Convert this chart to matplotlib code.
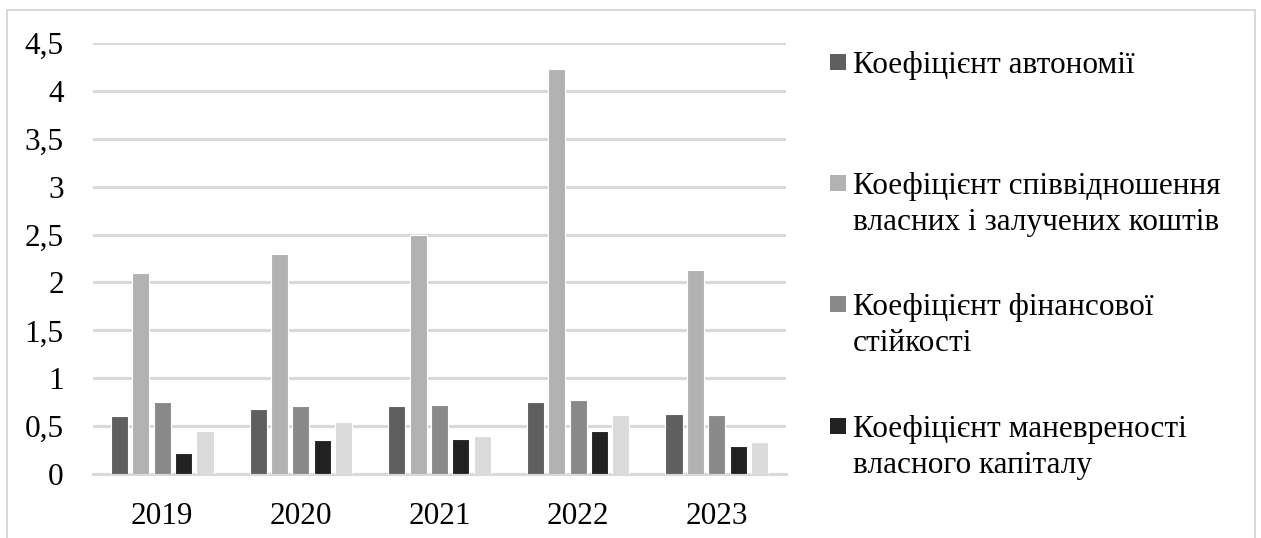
import numpy as np
import matplotlib
matplotlib.use("Agg")
import matplotlib.pyplot as plt
from matplotlib.patches import Rectangle

plt.rcParams['font.family'] = 'Liberation Serif'
FS = 22.5

# data
years = ["2019", "2020", "2021", "2022", "2023"]
autonomy = [0.61, 0.68, 0.71, 0.75, 0.63]
equity_debt = [2.10, 2.30, 2.50, 4.23, 2.13]
fin_stability = [0.75, 0.71, 0.72, 0.77, 0.62]
maneuver = [0.22, 0.35, 0.37, 0.45, 0.29]
extra = [0.45, 0.54, 0.40, 0.62, 0.33]

labels = [["Коефіцієнт автономії"],
          ["Коефіцієнт співвідношення", "власних і залучених коштів"],
          ["Коефіцієнт фінансової", "стійкості"],
          ["Коефіцієнт маневреності", "власного капіталу"]]
colors = ["#5f5f5f", "#b2b2b2", "#898989", "#222222", "#dadada"]
series = [autonomy, equity_debt, fin_stability, maneuver, extra]

W, H = 1261, 538
fig = plt.figure(figsize=(W / 100, H / 100), dpi=100)
ax = fig.add_axes([93 / W, 1 - 474 / H, (786 - 93) / W, (474 - 43) / H])

x = np.arange(len(years))
step = 0.154
width = 0.123
for i, (vals, c) in enumerate(zip(series, colors)):
    ax.bar(x + (i - 2) * step, vals, width, color=c, edgecolor="white", linewidth=0.8, zorder=3)

ax.set_xlim(-0.5, len(years) - 0.5)
ax.set_ylim(0, 4.5)
ticks = np.arange(0, 4.51, 0.5)
ax.set_yticks(ticks)
ax.set_yticklabels([("%g" % v).replace(".", ",") for v in ticks])
ax.set_xticks(x)
ax.set_xticklabels(years)
ax.tick_params(axis="y", length=0, pad=21, labelsize=FS)
ax.tick_params(axis="x", length=0, pad=20, labelsize=FS)
ax.grid(axis="y", color="#d9d9d9", linewidth=2.2, zorder=0)
for s in ["top", "right", "left"]:
    ax.spines[s].set_visible(False)
ax.spines["bottom"].set_color("#d9d9d9")
ax.spines["bottom"].set_linewidth(2.2)

# chart border
fig.add_artist(Rectangle((7 / W, -0.1), (1255 - 7) / W, 1.1 - 10 / H, transform=fig.transFigure,
                         fill=False, edgecolor="#d9d9d9", linewidth=1.5))

# legend (hand placed, marker next to first line)
base_y = [73, 194, 315, 437]
for lines, c, by in zip(labels, colors, base_y):
    fig.add_artist(Rectangle((830 / W, 1 - (by - 3) / H), 16 / W, 16 / H, transform=fig.transFigure,
                             facecolor=c, edgecolor="none"))
    for k, line in enumerate(lines):
        fig.text(853 / W, 1 - (by + 36 * k) / H, line, fontsize=FS, va="baseline", ha="left")

fig.savefig("out.png", dpi=100)
